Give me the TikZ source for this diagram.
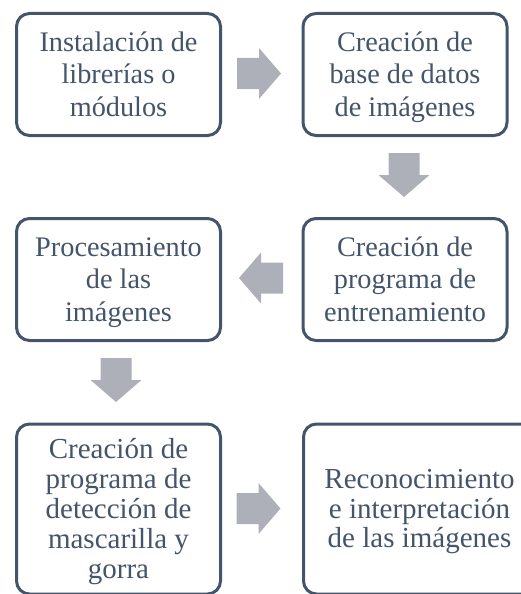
\documentclass[tikz,border=0pt]{standalone}
\usepackage{fontspec}
\setmainfont{Liberation Serif}
\newfontfamily\boxfont{Liberation Serif}
\newcommand{\tstr}{\rule{0pt}{0.9em}}
\newcommand{\bstr}{\rule[-0.25em]{0pt}{0.25em}}
\definecolor{boxline}{HTML}{44546A}
\definecolor{arrowgray}{HTML}{ADB0B8}
\begin{document}
\begin{tikzpicture}[x=1pt,y=-1pt,
  stepbox/.style={draw=boxline, line width=3pt, rounded corners=13pt, fill=white,
    text=boxline, align=center, inner sep=0pt,
    font=\boxfont\fontsize{28.3}{32.5}\selectfont},
  smalltext/.style={font=\boxfont\fontsize{29}{30}\selectfont},
  tighttext/.style={font=\boxfont\fontsize{29}{29.5}\selectfont},
  pics/blockarrow/.style={code={
    \fill[arrowgray] (-22,-15.5) -- (0,-15.5) -- (0,-25.5) -- (22,0) -- (0,25.5) -- (0,15.5) -- (-22,15.5) -- cycle;
  }}]
\clip (0,0) rectangle (521,594);
\useasboundingbox (0,0) rectangle (521,594);

\node[stepbox, minimum width=204pt, minimum height=122pt] (b1) at (118.5,74.5)
  {\tstr Instalación de\\librerías o\\módulos\bstr};
\node[stepbox, minimum width=204pt, minimum height=122pt] (b2) at (405,74.5)
  {\tstr Creación de\\base de datos\\de imágenes\bstr};
\node[stepbox, minimum width=204pt, minimum height=122pt] (b3) at (118.5,279.5)
  {\tstr Procesamiento\\de las\\imágenes\bstr};
\node[stepbox, minimum width=204pt, minimum height=122pt] (b4) at (405,279.5)
  {\tstr Creación de\\programa de\\entrenamiento\bstr};
\node[stepbox, smalltext, minimum width=204pt, minimum height=170pt] (b5) at (118.5,509)
  {\tstr Creación de\\programa de\\detección de\\mascarilla y\\gorra\bstr};
\node[stepbox, tighttext, minimum width=232pt, minimum height=170pt] (b6) at (419.5,509)
  {\tstr Reconocimiento\\e interpretación\\de las imágenes\bstr};

\coordinate (a1) at (259,73.5);
\coordinate (a2) at (404,175);
\coordinate (a3) at (261,278);
\coordinate (a4) at (116,380);
\coordinate (a5) at (258.5,508.5);

\pic at (a1) {blockarrow};
\pic[rotate=-90] at (a2) {blockarrow};
\pic[rotate=180] at (a3) {blockarrow};
\pic[rotate=-90] at (a4) {blockarrow};
\pic at (a5) {blockarrow};
\end{tikzpicture}
\end{document}
